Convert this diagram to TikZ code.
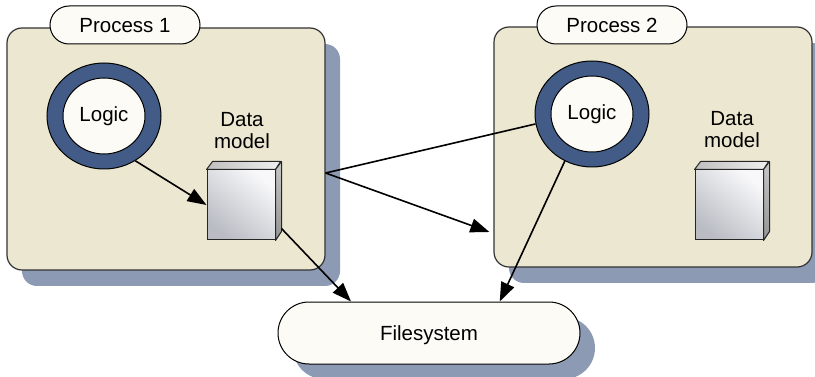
\documentclass[tikz,border=0pt]{standalone}
\usepackage{fontspec}
\setmainfont{Liberation Sans}
\usetikzlibrary{calc,arrows.meta,shadows,shapes.geometric}
\definecolor{boxfill}{HTML}{ECE7D0}
\definecolor{shadowc}{HTML}{8C9AB3}
\definecolor{ringc}{HTML}{425C87}
\definecolor{paper}{HTML}{FCFBF6}
\definecolor{faceA}{HTML}{F8F8FA}
\definecolor{faceB}{HTML}{B9BCC3}
\newcommand\cubeSides[1]{%
  \shadedraw[draw=black!85, line width=1pt, line join=round, left color=black!25, right color=black!6]
    (#1.north west) -- ++(6,-8) -- ++(68,0) -- (#1.north east) -- cycle;
  \shadedraw[draw=black!85, line width=1pt, line join=round, top color=black!22, bottom color=black!42]
    (#1.north east) -- ++(6,-8) -- ++(0,70) -- (#1.south east) -- cycle;
}
\begin{document}
\begin{tikzpicture}[x=1pt,y=-1pt,
  every node/.style={font=\fontsize{20.5}{22}\selectfont},
  capc/.style={text height=14.7pt, text depth=0pt},
  procbox/.style={draw=black!80, line width=1.2pt, fill=boxfill, rounded corners=15pt,
    minimum width=318pt, minimum height=242pt, inner sep=0pt,
    general shadow={fill=shadowc, shadow xshift=15pt, shadow yshift=-16pt}},
  pill/.style={draw=black, line width=1pt, fill=paper, rounded corners=19pt,
    minimum width=150pt, minimum height=38pt, inner sep=0pt, capc},
  ring/.style={ellipse, draw=black, line width=1pt, fill=ringc,
    minimum width=114pt, minimum height=106pt, inner sep=0pt},
  core/.style={ellipse, draw=black, line width=1pt, fill=paper,
    minimum width=82pt, minimum height=76pt, inner sep=0pt},
  lab/.style={align=center, inner sep=0pt},
  cubef/.style={draw=black!85, line width=1pt, minimum width=68pt, minimum height=70pt,
    inner sep=0pt, top color=faceA, bottom color=faceB, shading angle=-40},
  fsbox/.style={draw=black, line width=1pt, fill=paper, rounded corners=31pt,
    minimum width=302pt, minimum height=62pt, inner sep=0pt, capc,
    general shadow={fill=shadowc, shadow xshift=15pt, shadow yshift=-15pt}},
  conn/.style={line width=1.6pt, black},
  arr/.style={conn, -{Triangle[length=19pt,width=14pt]}}
]
\useasboundingbox (0,0) rectangle (815,377);
\clip (0,0) rectangle (815,377);

\node[procbox] (p1) at (166,149) {};
\node[procbox, minimum height=240pt] (p2) at (653,147) {};
\node[pill] (t1) at (125,25) {Process 1};
\node[pill] (t2) at (612,25) {Process 2};

\node[ring] (l1) at (104,116) {};
\node[core] (l1c) at (l1.center) {Logic};
\node[ring] (l2) at (592,114) {};
\node[core] (l2c) at (l2.center) {Logic};

\node[lab] (d1) at (242,131) {Data\\model};
\node[lab] (d2) at (732,130) {Data\\model};

\node[cubef] (c1) at (241,205) {};
\cubeSides{c1}
\node[cubef] (c2) at (729,205) {};
\cubeSides{c2}

\node[fsbox] (fs) at (429,333) {Filesystem};

\coordinate (src) at ($(p1.east)+(0,24)$);
\draw[arr] (l1.-55) -- (c1.west);
\draw[conn] (src) -- (l2.190);
\draw[arr] (src) -- ($(p2.west)+(-4,85)$);
\draw[arr] ($(c1.south east)+(6,-12)$) -- (fs.158);
\draw[arr] (l2.-120) -- (fs.24.5);
\end{tikzpicture}
\end{document}
